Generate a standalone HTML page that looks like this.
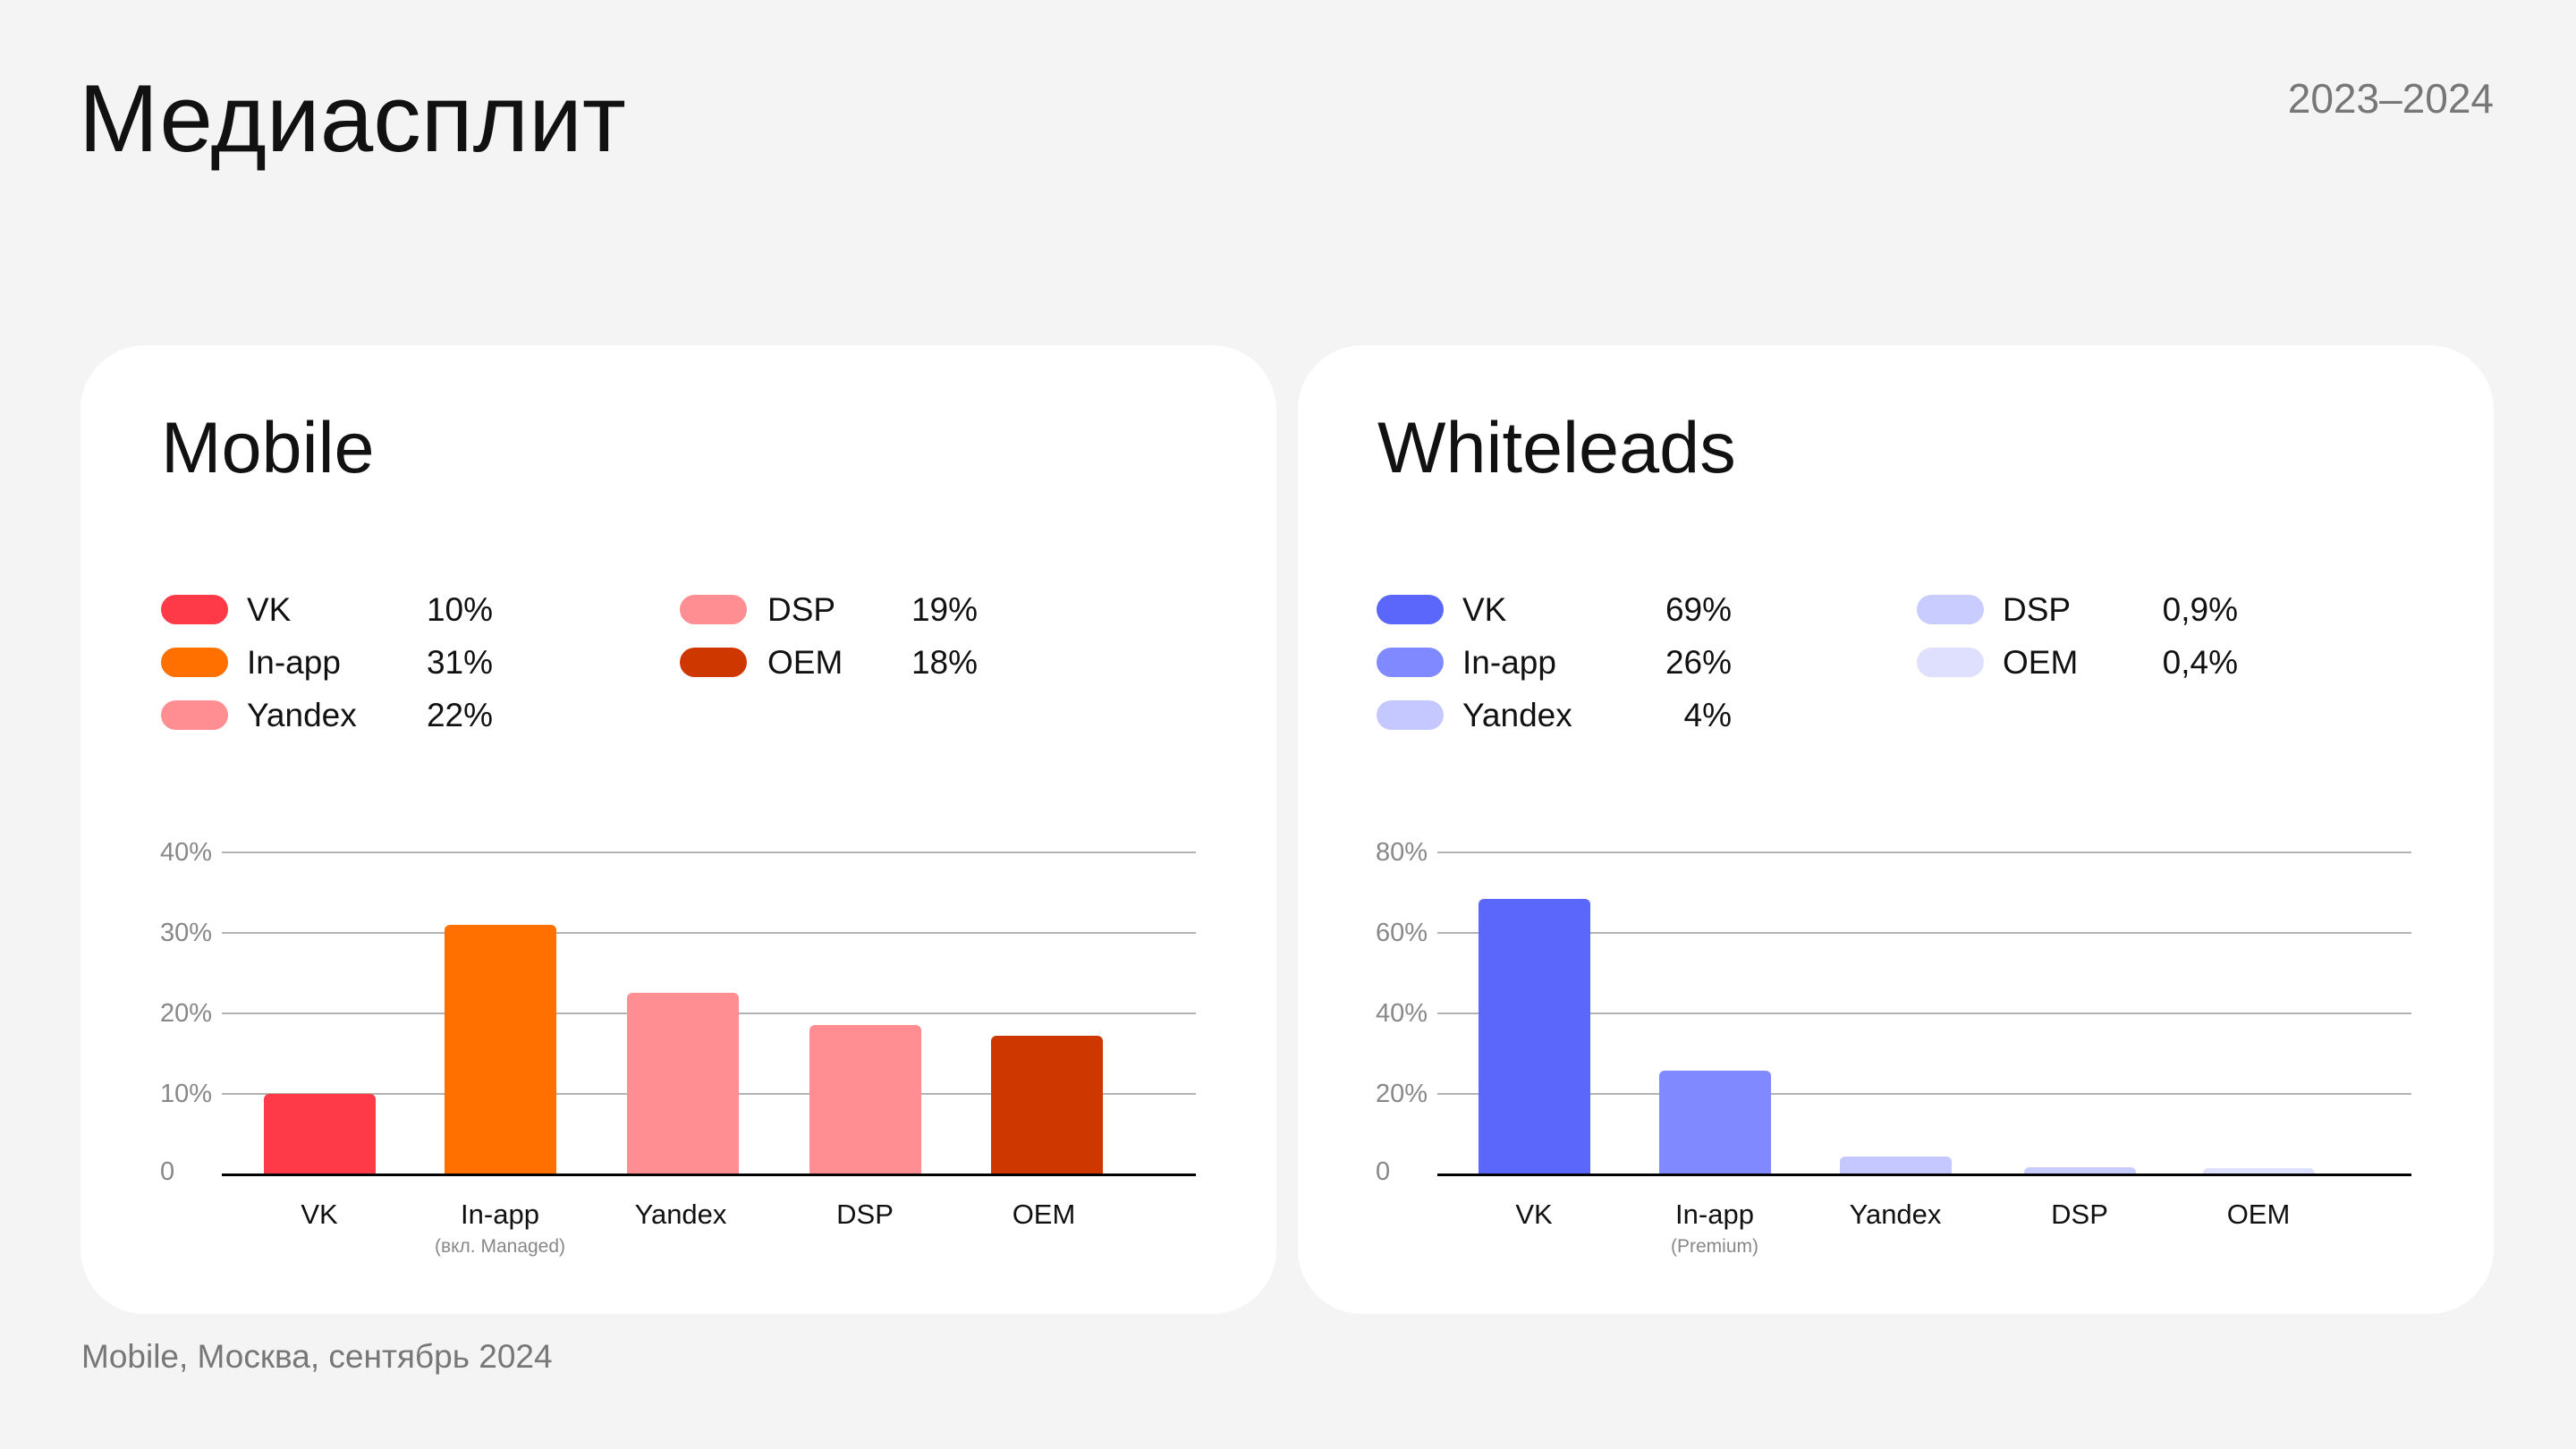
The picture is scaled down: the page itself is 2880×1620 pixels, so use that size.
<!DOCTYPE html>
<html><head><meta charset="utf-8"><style>
*{margin:0;padding:0;box-sizing:border-box}
body{width:2880px;height:1620px;background:#f4f4f4;position:relative;overflow:hidden;font-family:"Liberation Sans","Noto Sans CJK SC",sans-serif;color:#111}
.a{position:absolute;white-space:nowrap}
.card{position:absolute;background:#fff;border-radius:72px}
.sw{position:absolute;width:75px;height:33px;border-radius:17px}
.lg{position:absolute;font-size:37px;line-height:40px;transform:translateY(-20px)}
.v{position:absolute;font-size:37px;line-height:40px;transform:translate(-100%,-20px)}
.grid{position:absolute;height:2px;background:#b3b3b3}
.base{position:absolute;height:3px;background:#000}
.yl{position:absolute;font-size:29px;color:#888;line-height:30px;transform:translateY(-15px)}
.bar{position:absolute;width:125px;border-radius:6px 6px 0 0}
.xl{position:absolute;font-size:31px;line-height:34px;transform:translate(-50%,-17px);text-align:center}
.xs{position:absolute;font-size:21px;line-height:24px;color:#888;transform:translate(-50%,-12px)}
</style></head><body>
<div class="a" style="left:88px;top:72px;font-size:107px;line-height:120px">Медиасплит</div>
<div class="a" style="right:92px;top:84px;font-size:46px;color:#777;line-height:52px">2023–2024</div>

<div class="card" style="left:90px;top:386px;width:1337px;height:1083px"></div>
<div class="card" style="left:1451px;top:386px;width:1337px;height:1083px"></div>

<div class="a" style="left:180px;top:457px;font-size:81px;line-height:88px">Mobile</div>
<div class="a" style="left:1540px;top:457px;font-size:81px;line-height:88px">Whiteleads</div>

<!-- Mobile legend -->
<div class="sw" style="left:180px;top:665px;background:#ff3a48"></div><div class="lg" style="left:276px;top:682px">VK</div><div class="v" style="left:551px;top:682px">10%</div>
<div class="sw" style="left:180px;top:724px;background:#ff7000"></div><div class="lg" style="left:276px;top:741px">In-app</div><div class="v" style="left:551px;top:741px">31%</div>
<div class="sw" style="left:180px;top:783px;background:#ff8e93"></div><div class="lg" style="left:276px;top:800px">Yandex</div><div class="v" style="left:551px;top:800px">22%</div>
<div class="sw" style="left:760px;top:665px;background:#ff8e93"></div><div class="lg" style="left:858px;top:682px">DSP</div><div class="v" style="left:1093px;top:682px">19%</div>
<div class="sw" style="left:760px;top:724px;background:#cf3700"></div><div class="lg" style="left:858px;top:741px">OEM</div><div class="v" style="left:1093px;top:741px">18%</div>

<!-- Whiteleads legend -->
<div class="sw" style="left:1539px;top:665px;background:#5a67fa"></div><div class="lg" style="left:1635px;top:682px">VK</div><div class="v" style="left:1936px;top:682px">69%</div>
<div class="sw" style="left:1539px;top:724px;background:#8089ff"></div><div class="lg" style="left:1635px;top:741px">In-app</div><div class="v" style="left:1936px;top:741px">26%</div>
<div class="sw" style="left:1539px;top:783px;background:#c5c8ff"></div><div class="lg" style="left:1635px;top:800px">Yandex</div><div class="v" style="left:1936px;top:800px">4%</div>
<div class="sw" style="left:2143px;top:665px;background:#c9ccff"></div><div class="lg" style="left:2239px;top:682px">DSP</div><div class="v" style="left:2502px;top:682px">0,9%</div>
<div class="sw" style="left:2143px;top:724px;background:#dfe0fd"></div><div class="lg" style="left:2239px;top:741px">OEM</div><div class="v" style="left:2502px;top:741px">0,4%</div>

<!-- Mobile chart -->
<div class="grid" style="left:248px;width:1089px;top:952px"></div>
<div class="grid" style="left:248px;width:1089px;top:1042px"></div>
<div class="grid" style="left:248px;width:1089px;top:1132px"></div>
<div class="grid" style="left:248px;width:1089px;top:1222px"></div>
<div class="yl" style="left:179px;top:953px">40%</div>
<div class="yl" style="left:179px;top:1043px">30%</div>
<div class="yl" style="left:179px;top:1133px">20%</div>
<div class="yl" style="left:179px;top:1223px">10%</div>
<div class="yl" style="left:179px;top:1310px">0</div>
<div class="bar" style="left:295px;top:1223px;height:90px;background:#ff3a48"></div>
<div class="bar" style="left:497px;top:1034px;height:279px;background:#ff7000"></div>
<div class="bar" style="left:701px;top:1110px;height:203px;background:#ff8e93"></div>
<div class="bar" style="left:905px;top:1146px;height:167px;background:#ff8e93"></div>
<div class="bar" style="left:1108px;top:1158px;height:155px;background:#cf3700"></div>
<div class="base" style="left:248px;width:1089px;top:1312px"></div>
<div class="xl" style="left:357px;top:1358px">VK</div>
<div class="xl" style="left:559px;top:1358px">In-app</div>
<div class="xs" style="left:559px;top:1394px">(вкл. Managed)</div>
<div class="xl" style="left:761px;top:1358px">Yandex</div>
<div class="xl" style="left:967px;top:1358px">DSP</div>
<div class="xl" style="left:1167px;top:1358px">OEM</div>

<!-- Whiteleads chart -->
<div class="grid" style="left:1607px;width:1089px;top:952px"></div>
<div class="grid" style="left:1607px;width:1089px;top:1042px"></div>
<div class="grid" style="left:1607px;width:1089px;top:1132px"></div>
<div class="grid" style="left:1607px;width:1089px;top:1222px"></div>
<div class="yl" style="left:1538px;top:953px">80%</div>
<div class="yl" style="left:1538px;top:1043px">60%</div>
<div class="yl" style="left:1538px;top:1133px">40%</div>
<div class="yl" style="left:1538px;top:1223px">20%</div>
<div class="yl" style="left:1538px;top:1310px">0</div>
<div class="bar" style="left:1653px;top:1005px;height:308px;background:#5a67fa"></div>
<div class="bar" style="left:1855px;top:1197px;height:116px;background:#8089ff"></div>
<div class="bar" style="left:2057px;top:1293px;height:20px;background:#c5c8ff"></div>
<div class="bar" style="left:2263px;top:1305px;height:8px;background:#c9ccff"></div>
<div class="bar" style="left:2463px;top:1306px;height:7px;background:#dfe0fd"></div>
<div class="base" style="left:1607px;width:1089px;top:1312px"></div>
<div class="xl" style="left:1715px;top:1358px">VK</div>
<div class="xl" style="left:1917px;top:1358px">In-app</div>
<div class="xs" style="left:1917px;top:1394px">(Premium)</div>
<div class="xl" style="left:2119px;top:1358px">Yandex</div>
<div class="xl" style="left:2325px;top:1358px">DSP</div>
<div class="xl" style="left:2525px;top:1358px">OEM</div>

<div class="a" style="left:91px;top:1497px;font-size:37px;color:#777;line-height:40px">Mobile, Москва, сентябрь 2024</div>
</body></html>
